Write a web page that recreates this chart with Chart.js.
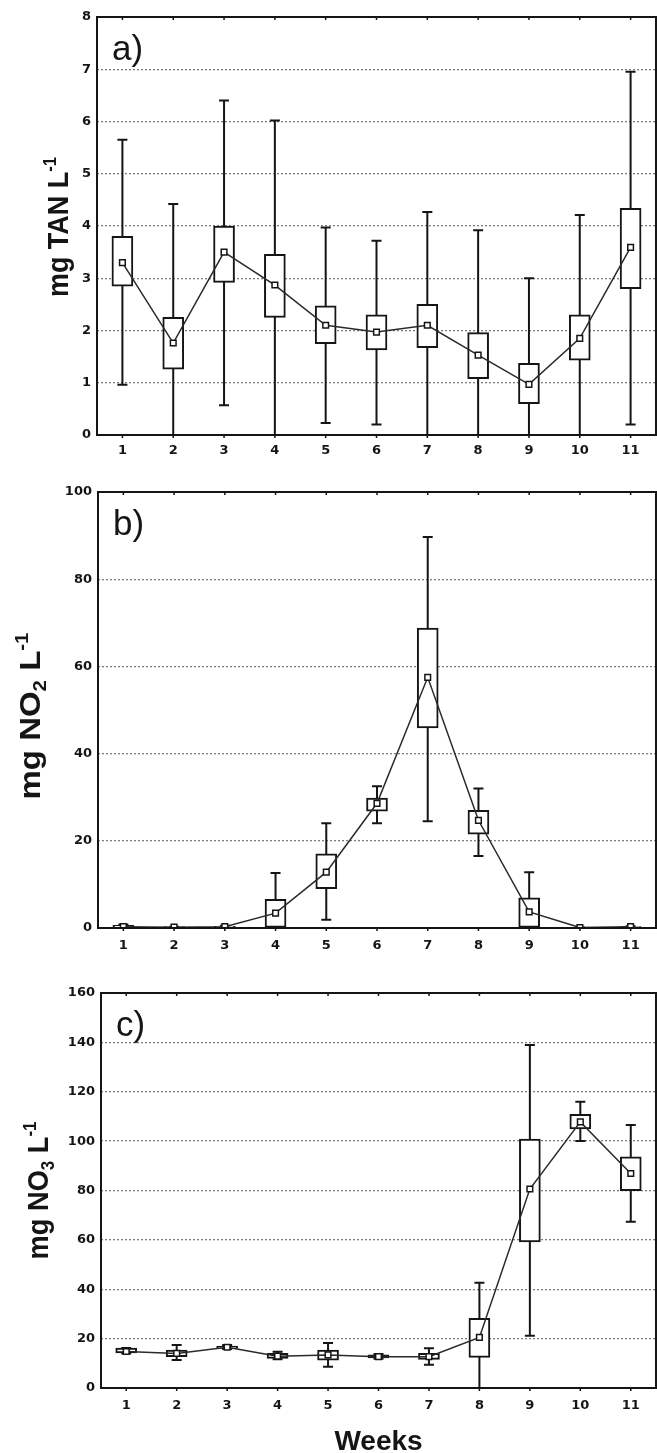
<!DOCTYPE html>
<html>
<head>
<meta charset="utf-8">
<script src="https://cdn.jsdelivr.net/npm/chart.js@4.4.1/dist/chart.umd.min.js"></script>
<style>
  html, body { margin: 0; padding: 0; background: #fff; }
  #wrap { position: relative; width: 657px; height: 1453px; overflow: hidden; }
  canvas { position: absolute; left: 0; }
</style>
</head>
<body>
<div id="wrap">
  <canvas id="tanChart" width="657" height="462" style="top:0px"></canvas>
  <canvas id="no2Chart" width="657" height="490" style="top:462px"></canvas>
  <canvas id="no3Chart" width="657" height="501" style="top:952px"></canvas>
</div>
<script>
  "use strict";

  // weeks on the x axis
  const weeks = ["1", "2", "3", "4", "5", "6", "7", "8", "9", "10", "11"];

  // a) TAN, mg/L : whisker low, box bottom, box top, whisker high, mean
  const tanLow = [0.96, 0, 0.57, 0, 0.23, 0.2, 0, 0, 0, 0, 0.2];
  const tanQ1 = [2.85, 1.26, 2.92, 2.25, 1.75, 1.63, 1.67, 1.08, 0.6, 1.43, 2.8];
  const tanQ3 = [3.8, 2.25, 4.0, 3.46, 2.47, 2.3, 2.5, 1.96, 1.37, 2.3, 4.34];
  const tanHigh = [5.65, 4.42, 6.4, 6.02, 3.97, 3.72, 4.27, 3.92, 3.0, 4.21, 6.95];
  const tanMean = [3.3, 1.76, 3.5, 2.87, 2.1, 1.97, 2.1, 1.53, 0.97, 1.85, 3.59];

  // b) NO2, mg/L
  const no2Low = [0, 0, 0, 0, 1.9, 24, 24.5, 16.5, 0, 0, 0];
  const no2Q1 = [0, 0, 0, 0, 9, 26.8, 45.9, 21.5, 0, 0, 0];
  const no2Q3 = [0.6, 0.3, 0.4, 6.6, 17, 29.8, 68.8, 27, 6.9, 0, 0.3];
  const no2High = [0.8, 0.3, 0.5, 12.6, 24, 32.5, 89.7, 32, 12.8, 0.1, 0.4];
  const no2Mean = [0.3, 0.2, 0.3, 3.4, 12.8, 28.6, 57.5, 24.7, 3.7, 0.1, 0.3];

  // c) NO3, mg/L
  const no3Low = [14, 11.3, 15.8, 11.6, 8.6, 11.8, 9.4, 0, 21.2, 100.1, 67.3];
  const no3Q1 = [14.2, 12.7, 16, 12, 11.3, 12.2, 11.6, 12.4, 59.2, 104.9, 79.9];
  const no3Q3 = [16.2, 15.4, 17, 14, 15.4, 13.4, 14, 28.2, 100.8, 110.9, 93.6];
  const no3High = [16.2, 17.4, 17.4, 14.7, 18.2, 13.8, 16.1, 42.6, 138.9, 115.9, 106.5];
  const no3Mean = [14.8, 14, 16.5, 12.9, 13.4, 12.7, 12.7, 20.5, 80.6, 107.8, 86.9];

  const INK = "#151515";
  const tickFont = { family: "'DejaVu Sans', Verdana, sans-serif", size: 13, weight: "bold" };
  const titleFamily = "'Liberation Sans', Arial, sans-serif";

  // rotated axis title with sub/superscripts, squeezed to a given length
  const drawRotated = (ctx, segs, x, y, size, length) => {
    const fontFor = (s) => `bold ${s.k === "n" ? size : Math.round(size * 0.62)}px ${titleFamily}`;
    let w = 0;
    segs.forEach((s) => { ctx.font = fontFor(s); w += ctx.measureText(s.t).width; });
    ctx.save();
    ctx.translate(x, y);
    ctx.rotate(-Math.PI / 2);
    ctx.scale(length / w, 1);
    ctx.fillStyle = INK;
    ctx.textBaseline = "alphabetic";
    ctx.textAlign = "left";
    let px = -w / 2;
    segs.forEach((s) => {
      ctx.font = fontFor(s);
      const dy = s.k === "sup" ? -size * 0.42 : s.k === "sub" ? size * 0.2 : 0;
      ctx.fillText(s.t, px, dy);
      px += ctx.measureText(s.t).width;
    });
    ctx.restore();
  };

  const makePanel = (cfg) => {
    const canvas = document.getElementById(cfg.id);
    const H = canvas.height;

    const extras = {
      id: "boxExtras",
      beforeDatasetsDraw(chart) {
        const { ctx, chartArea } = chart;
        const x = chart.scales.x;
        const y = chart.scales.y;
        ctx.save();
        ctx.beginPath();
        ctx.rect(chartArea.left, chartArea.top - 2, chartArea.right - chartArea.left, chartArea.bottom - chartArea.top + 2);
        ctx.clip();
        ctx.strokeStyle = INK;
        ctx.lineWidth = 2;
        cfg.low.forEach((lo, i) => {
          const cx = x.getPixelForValue(i);
          const yl = y.getPixelForValue(lo);
          const yh = y.getPixelForValue(cfg.high[i]);
          ctx.beginPath();
          ctx.moveTo(cx, yl);
          ctx.lineTo(cx, yh);
          ctx.moveTo(cx - 5, yl);
          ctx.lineTo(cx + 5, yl);
          ctx.moveTo(cx - 5, yh);
          ctx.lineTo(cx + 5, yh);
          ctx.stroke();
        });
        ctx.restore();
      },
      afterDraw(chart) {
        const { ctx, chartArea } = chart;
        const x = chart.scales.x;
        const { left, top, bottom } = chartArea;
        const right = Math.min(chartArea.right, chart.width - 1);
        ctx.save();
        ctx.strokeStyle = INK;
        ctx.lineWidth = 2;
        ctx.strokeRect(left, top, right - left, bottom - top);
        ctx.lineWidth = 1.5;
        weeks.forEach((w, i) => {
          const cx = x.getPixelForValue(i);
          ctx.beginPath();
          ctx.moveTo(cx, top);
          ctx.lineTo(cx, top + 3);
          ctx.moveTo(cx, bottom);
          ctx.lineTo(cx, bottom + 3);
          ctx.stroke();
        });
        ctx.fillStyle = INK;
        ctx.font = `35px ${titleFamily}`;
        ctx.textAlign = "left";
        ctx.textBaseline = "alphabetic";
        ctx.fillText(cfg.panel, left + 15, top + 43);
        drawRotated(ctx, cfg.title, cfg.titleX, (top + bottom) / 2 + cfg.titleShift, 29, cfg.titleLen);
        if (cfg.xTitle) {
          ctx.font = `bold 28px ${titleFamily}`;
          ctx.textAlign = "center";
          ctx.fillStyle = INK;
          ctx.fillText(cfg.xTitle, x.getPixelForValue(5), H - 3);
        }
        ctx.restore();
      }
    };

    return new Chart(canvas, {
      type: "bar",
      data: {
        labels: weeks,
        datasets: [
          {
            type: "line",
            data: cfg.mean,
            borderColor: "#2a2a2a",
            borderWidth: 1.5,
            tension: 0,
            pointStyle: "rect",
            pointRadius: 4,
            pointBorderWidth: 1.5,
            pointBorderColor: INK,
            pointBackgroundColor: "#fff",
            order: 0
          },
          {
            type: "bar",
            data: cfg.q1.map((v, i) => [v, cfg.q3[i]]),
            backgroundColor: "#fff",
            borderColor: INK,
            borderWidth: 2,
            borderSkipped: false,
            barThickness: 21,
            order: 1
          }
        ]
      },
      options: {
        responsive: false,
        animation: false,
        events: [],
        layout: { autoPadding: false, padding: { top: cfg.top, left: 0, right: 1, bottom: 0 } },
        plugins: { legend: { display: false }, tooltip: { enabled: false } },
        scales: {
          x: {
            offset: true,
            grid: { display: false, drawTicks: false },
            border: { display: false },
            ticks: { color: INK, font: tickFont, padding: cfg.xPad, maxRotation: 0, autoSkip: false },
            afterFit: (scale) => {
              scale.height = H - cfg.bottom;
              scale.paddingLeft = 0;
              scale.paddingRight = 0;
            }
          },
          y: {
            min: 0,
            max: cfg.yMax,
            grid: {
              drawTicks: false,
              lineWidth: 1.3,
              color: (c) => (c.tick.value === 0 || c.tick.value === cfg.yMax ? "rgba(0,0,0,0)" : "#7d7d7d")
            },
            border: { display: false, dash: [2, 2] },
            ticks: { stepSize: cfg.yStep, color: INK, font: tickFont, padding: 6 },
            afterFit: (scale) => { scale.width = cfg.left; }
          }
        }
      },
      plugins: [extras]
    });
  };

  makePanel({
    id: "tanChart", panel: "a)", left: 97, top: 17, bottom: 435, yMax: 8, yStep: 1, xPad: 8,
    low: tanLow, q1: tanQ1, q3: tanQ3, high: tanHigh, mean: tanMean,
    title: [{ t: "mg TAN L", k: "n" }, { t: "-1", k: "sup" }], titleX: 68, titleShift: 1, titleLen: 140
  });

  makePanel({
    id: "no2Chart", panel: "b)", left: 98, top: 30, bottom: 466, yMax: 100, yStep: 20, xPad: 10,
    low: no2Low, q1: no2Q1, q3: no2Q3, high: no2High, mean: no2Mean,
    title: [{ t: "mg NO", k: "n" }, { t: "2", k: "sub" }, { t: " L", k: "n" }, { t: "-1", k: "sup" }], titleX: 40, titleShift: 6, titleLen: 167
  });

  makePanel({
    id: "no3Chart", panel: "c)", left: 101, top: 41, bottom: 436, yMax: 160, yStep: 20, xPad: 10,
    low: no3Low, q1: no3Q1, q3: no3Q3, high: no3High, mean: no3Mean,
    title: [{ t: "mg NO", k: "n" }, { t: "3", k: "sub" }, { t: " L", k: "n" }, { t: "-1", k: "sup" }], titleX: 48, titleShift: 0, titleLen: 138,
    xTitle: "Weeks"
  });
</script>
</body>
</html>
